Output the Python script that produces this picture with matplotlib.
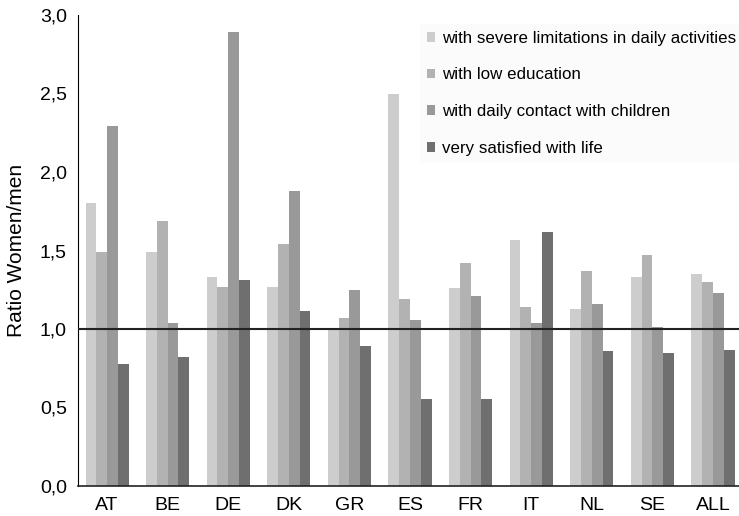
import matplotlib
matplotlib.use("Agg")
import matplotlib.pyplot as plt
import numpy as np

plt.rcParams['font.family'] = ['Liberation Sans', 'DejaVu Sans']

countries = ["AT", "BE", "DE", "DK", "GR", "ES", "FR", "IT", "NL", "SE", "ALL"]
series_labels = ["with severe limitations in daily activities",
                 "with low education",
                 "with daily contact with children",
                 "very satisfied with life"]
limitations = [1.80, 1.49, 1.33, 1.27, 1.00, 2.50, 1.26, 1.57, 1.13, 1.33, 1.35]
low_education = [1.49, 1.69, 1.27, 1.54, 1.07, 1.19, 1.42, 1.14, 1.37, 1.47, 1.30]
contact_children = [2.29, 1.04, 2.89, 1.88, 1.25, 1.06, 1.21, 1.04, 1.16, 1.01, 1.23]
satisfied = [0.78, 0.82, 1.31, 1.115, 0.89, 0.555, 0.555, 1.62, 0.86, 0.85, 0.865]
yticks = [0.0, 0.5, 1.0, 1.5, 2.0, 2.5, 3.0]
ytick_labels = ["0,0", "0,5", "1,0", "1,5", "2,0", "2,5", "3,0"]

colors = ["#cdcdcd", "#b2b2b2", "#999999", "#6f6f6f"]
series = [limitations, low_education, contact_children, satisfied]

fig = plt.figure(figsize=(7.39, 5.16), dpi=100)
ax = fig.add_axes([78/739, 30/516, 661/739, 471/516])

x = np.arange(len(countries))
w = 0.178
for i, (vals, col, lab) in enumerate(zip(series, colors, series_labels)):
    ax.bar(x + (i - 1.5) * w, vals, width=w, color=col, label=lab, edgecolor='none')

ax.axhline(1.0, color='#222222', lw=1.5, zorder=3)

ax.set_xlim(-0.48, 10.43)
ax.set_ylim(0, 3.0)
ax.set_yticks(yticks)
ax.set_yticklabels(ytick_labels, fontsize=14)
ax.set_xticks(x)
ax.set_xticklabels(countries, fontsize=14)
ax.tick_params(axis='y', length=0, pad=8)
ax.tick_params(axis='x', length=0, pad=8)
ax.set_ylabel("Ratio Women/men", fontsize=15, labelpad=10)

for s in ['top', 'right']:
    ax.spines[s].set_visible(False)
ax.spines['left'].set_linewidth(0.8)
ax.spines['bottom'].set_linewidth(1.2)
ax.spines['bottom'].set_color('#222222')

leg = ax.legend(loc='upper left', bbox_to_anchor=(0.517, 0.981), frameon=True,
                fontsize=12.2, handlelength=0.5, handleheight=0.5,
                handletextpad=0.4, labelspacing=1.28, borderaxespad=0)
leg.get_frame().set_facecolor('#fbfbfb')
leg.get_frame().set_edgecolor('none')

fig.savefig("out.png", dpi=100)
